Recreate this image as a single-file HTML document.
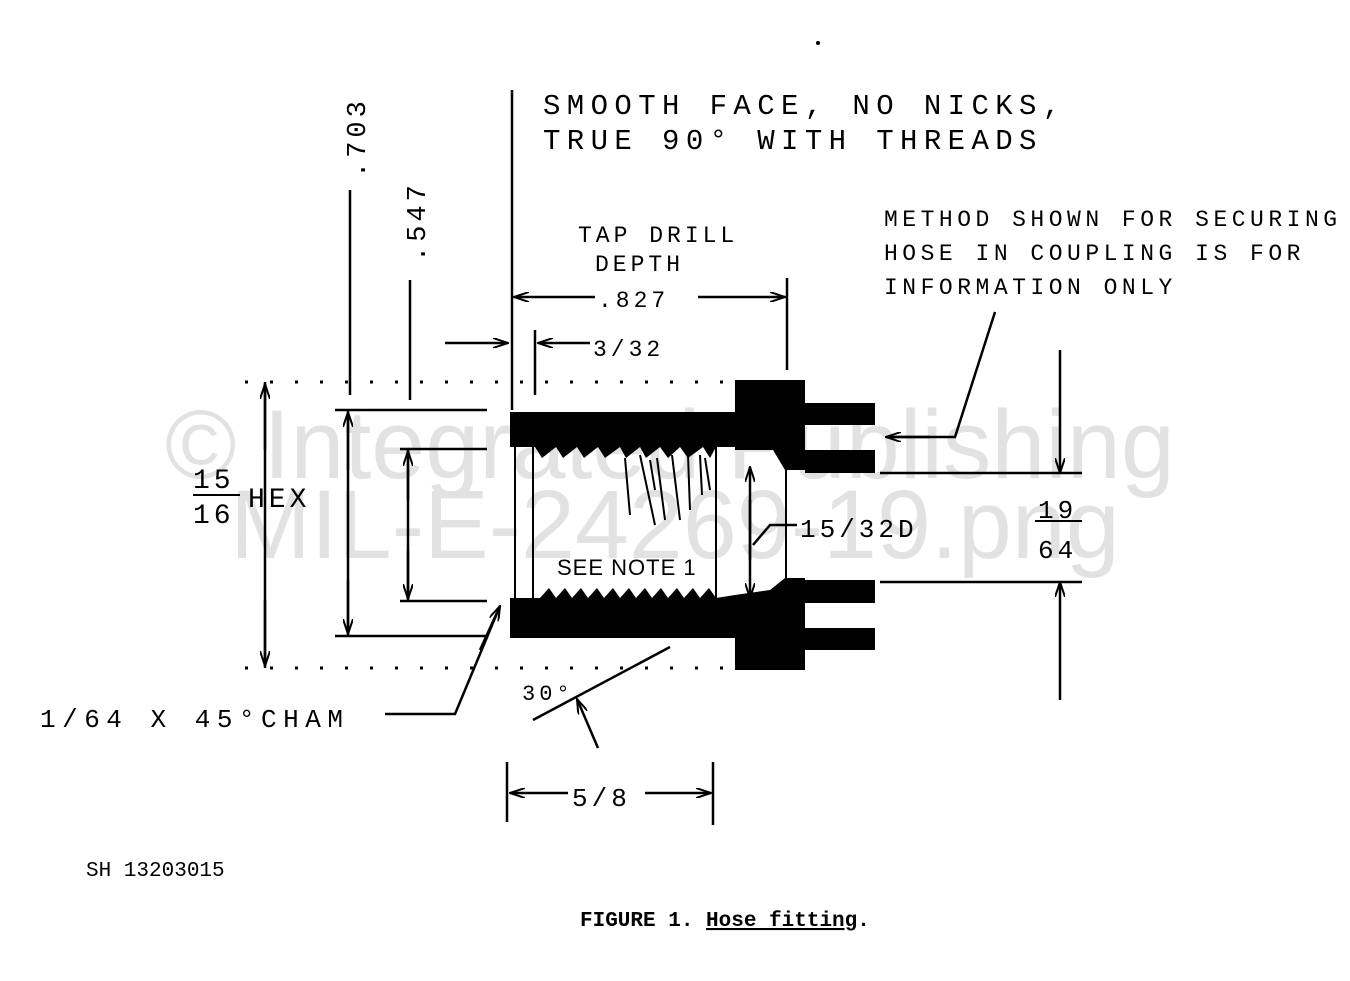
<!DOCTYPE html>
<html><head><style>
html,body{margin:0;padding:0;background:#fff;}
svg{display:block;}
text{font-family:"Liberation Mono",monospace;fill:#000;}
</style></head><body>
<svg width="1350" height="981" viewBox="0 0 1350 981" xmlns="http://www.w3.org/2000/svg">
<defs>
<marker id="a" markerWidth="16" markerHeight="10" refX="15" refY="5" orient="auto" markerUnits="userSpaceOnUse">
<path d="M0,0 L15,5 L0,10" fill="none" stroke="#000" stroke-width="2"/>
</marker>
</defs>
<!-- watermark -->
<text x="165" y="478" style="fill:#e2e2e2;font-family:'Liberation Sans',sans-serif" font-size="97">© Integrated Publishing</text>
<text x="230" y="558" style="fill:#e2e2e2;font-family:'Liberation Sans',sans-serif" font-size="97">MIL-E-24269-19.png</text>
<g stroke="#000" stroke-width="2.5" fill="none">
<line x1="512" y1="90" x2="512" y2="410"/>
<line x1="350" y1="190" x2="350" y2="395"/>
<line x1="410" y1="280" x2="410" y2="400"/>
<line x1="535" y1="330" x2="535" y2="395"/>
<line x1="787" y1="278" x2="787" y2="370"/>
<line x1="245" y1="382" x2="735" y2="382" stroke-dasharray="3,22" stroke-width="3"/>
<line x1="245" y1="668" x2="735" y2="668" stroke-dasharray="3,22" stroke-width="3"/>
<line x1="595" y1="297" x2="514" y2="297" marker-end="url(#a)"/>
<line x1="698" y1="297" x2="785" y2="297" marker-end="url(#a)"/>
<line x1="445" y1="343" x2="508" y2="343" marker-end="url(#a)"/>
<line x1="590" y1="343" x2="538" y2="343" marker-end="url(#a)"/>
<line x1="265" y1="382" x2="265" y2="668"/>
<line x1="265" y1="450" x2="265" y2="384" marker-end="url(#a)"/>
<line x1="265" y1="600" x2="265" y2="666" marker-end="url(#a)"/>
<line x1="335" y1="410" x2="487" y2="410"/>
<line x1="335" y1="636" x2="487" y2="636"/>
<line x1="348" y1="410" x2="348" y2="636"/>
<line x1="348" y1="470" x2="348" y2="412" marker-end="url(#a)"/>
<line x1="348" y1="580" x2="348" y2="634" marker-end="url(#a)"/>
<line x1="400" y1="449" x2="487" y2="449"/>
<line x1="400" y1="601" x2="487" y2="601"/>
<line x1="408" y1="449" x2="408" y2="601"/>
<line x1="408" y1="500" x2="408" y2="451" marker-end="url(#a)"/>
<line x1="408" y1="550" x2="408" y2="599" marker-end="url(#a)"/>
<polyline points="385,714 455,714 500,606" />
<line x1="480" y1="650" x2="500" y2="606" marker-end="url(#a)"/>
<line x1="533" y1="720" x2="670" y2="647"/>
<line x1="598" y1="748" x2="577" y2="699" marker-end="url(#a)"/>
<line x1="507" y1="762" x2="507" y2="822"/>
<line x1="713" y1="762" x2="713" y2="825"/>
<line x1="568" y1="793" x2="510" y2="793" marker-end="url(#a)"/>
<line x1="645" y1="793" x2="711" y2="793" marker-end="url(#a)"/>
<line x1="1060" y1="350" x2="1060" y2="473" marker-end="url(#a)"/>
<line x1="1060" y1="700" x2="1060" y2="582" marker-end="url(#a)"/>
<line x1="880" y1="473" x2="1082" y2="473"/>
<line x1="880" y1="582" x2="1082" y2="582"/>
<line x1="1035" y1="521" x2="1082" y2="521" stroke-width="2"/>
<polyline points="995,312 955,437 888,437"/>
<line x1="930" y1="437" x2="886" y2="437" marker-end="url(#a)"/>
<line x1="750" y1="560" x2="750" y2="467" marker-end="url(#a)"/>
<line x1="750" y1="500" x2="750" y2="598" marker-end="url(#a)"/>
<polyline points="797,525 770,525 753,545"/>
<line x1="515" y1="445" x2="515" y2="602" stroke-width="2"/>
<line x1="533" y1="445" x2="533" y2="602" stroke-width="2"/>
<line x1="716" y1="445" x2="716" y2="598" stroke-width="2"/>
<line x1="786" y1="470" x2="786" y2="580" stroke-width="2"/>
<path d="M625,458 L630,515 M640,455 L655,525 M657,458 L665,520 M672,455 L680,520 M688,455 L690,510 M700,455 L702,495 M650,460 L655,490 M705,458 L710,490" stroke-width="2"/>
</g>
<g fill="#000">
<path d="M510,412 L735,412 L735,380 L805,380 L805,470 L785,470 L773,450 L735,450 L735,447 L716,447 L710,458 L703,447 L688,458 L680,447 L668,458 L660,447 L646,458 L640,447 L626,458 L620,447 L605,458 L598,447 L584,458 L577,447 L563,458 L556,447 L542,458 L535,447 L510,447 Z"/>
<path d="M510,638 L735,638 L735,670 L805,670 L805,578 L785,578 L770,590 L735,595 L716,598 L709,588 L700,598 L693,588 L684,598 L677,588 L668,598 L661,588 L652,598 L645,588 L636,598 L629,588 L620,598 L613,588 L604,598 L597,588 L588,598 L581,588 L572,598 L565,588 L556,598 L549,588 L540,598 L510,598 Z"/>
<rect x="805" y="403" width="70" height="22"/>
<rect x="805" y="450" width="70" height="23"/>
<rect x="805" y="580" width="70" height="23"/>
<rect x="805" y="628" width="70" height="22"/>
<circle cx="818" cy="43" r="2"/>
</g>
<g font-size="29" letter-spacing="6.4">
<text x="543" y="114">SMOOTH FACE, NO NICKS,</text>
<text x="543" y="149">TRUE 90° WITH THREADS</text>
</g>
<g font-size="23" letter-spacing="4">
<text x="578" y="242">TAP DRILL</text>
<text x="595" y="271">DEPTH</text>
<text x="598" y="307">.827</text>
<text x="593" y="356">3/32</text>
<text x="884" y="226" letter-spacing="4.5">METHOD SHOWN FOR SECURING</text>
<text x="884" y="260" letter-spacing="4.5">HOSE IN COUPLING IS FOR</text>
<text x="884" y="294" letter-spacing="4.5">INFORMATION ONLY</text>
<text x="800" y="537" font-size="26">15/32D</text>
<text x="1038" y="518" font-size="26">19</text>
<text x="1038" y="558" font-size="26">64</text>
<text x="193" y="488" font-size="28">15</text>
<text x="193" y="523" font-size="28">16</text>
<text x="248" y="507" font-size="28">HEX</text>
<text x="40" y="727" font-size="26" letter-spacing="6.5">1/64 X 45°CHAM</text>
<text x="522" y="700" font-size="22">30°</text>
<text x="572" y="806" font-size="26">5/8</text>
<text x="557" y="575" font-size="22" letter-spacing="1" style="font-family:'Liberation Sans',sans-serif">SEE NOTE 1</text>
</g>
<line x1="193" y1="495" x2="240" y2="495" stroke="#000" stroke-width="2"/>
<text font-size="27" letter-spacing="4" transform="translate(365,178) rotate(-90)">.703</text>
<text font-size="27" letter-spacing="4" transform="translate(425,262) rotate(-90)">.547</text>
<text x="86" y="876" font-size="21" style="font-family:'Liberation Mono',monospace">SH 13203015</text>
<text x="580" y="926" font-size="21" style="font-family:'Liberation Mono',monospace" font-weight="bold">FIGURE 1.  <tspan text-decoration="underline">Hose fitting</tspan>.</text>
</svg>
</body></html>
